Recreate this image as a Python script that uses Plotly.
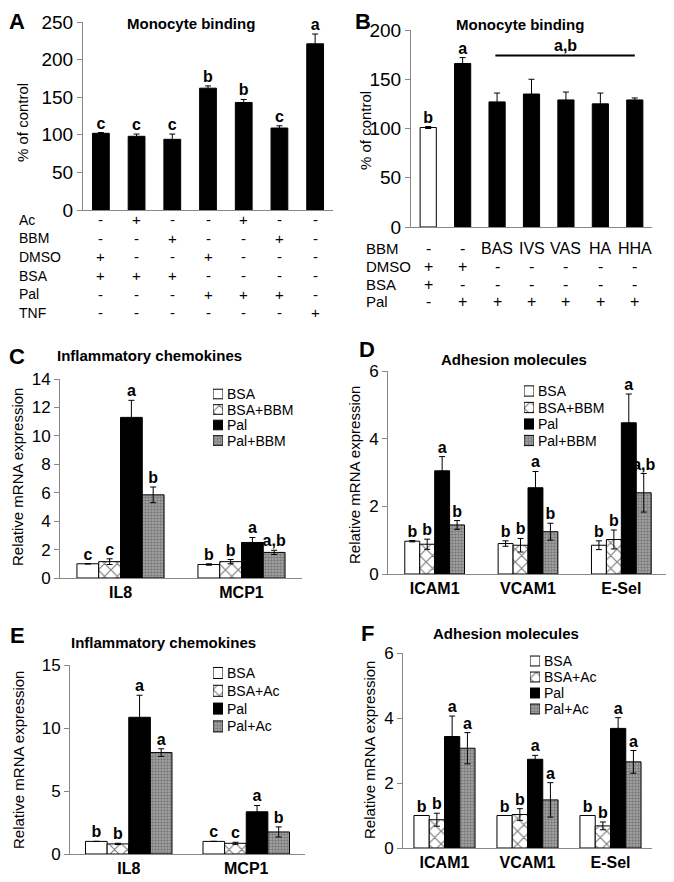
import plotly.graph_objects as go

FONT = "Liberation Sans, Arial, sans-serif"
W, H = 674, 882
PAGE_OFFSET = 8  # the page body margin moves the figure 8px right and down

# ---- panel A: monocyte binding, acacetin / BBM ----
a_vals = [102, 98, 94, 162, 143, 109, 221]
a_errs = [1, 3, 7, 3, 4, 3, 13]
a_sig = ["c", "c", "c", "b", "b", "c", "a"]
a_rows = ["Ac", "BBM", "DMSO", "BSA", "Pal", "TNF"]
a_table = [
    ["-", "+", "-", "-", "+", "-", "-"],
    ["-", "-", "+", "-", "-", "+", "-"],
    ["+", "-", "-", "+", "-", "-", "-"],
    ["+", "+", "+", "-", "-", "-", "-"],
    ["-", "-", "-", "+", "+", "+", "-"],
    ["-", "-", "-", "-", "-", "-", "+"],
]

# ---- panel B: monocyte binding, BBM fractions ----
b_vals = [101, 166, 127, 135, 129, 125, 129]
b_errs = [1, 6, 9, 15, 8, 11, 2]
b_sig = ["b", "a", "", "", "", "", ""]
b_colors = ["white", "black", "black", "black", "black", "black", "black"]
b_rows = ["BBM", "DMSO", "BSA", "Pal"]
b_table = [
    ["-", "-", "BAS", "IVS", "VAS", "HA", "HHA"],
    ["+", "+", "-", "-", "-", "-", "-"],
    ["+", "-", "-", "-", "-", "-", "-"],
    ["-", "+", "+", "+", "+", "+", "+"],
]
b_bar_label = "a,b"
b_bar_level = 174

# ---- panel C: chemokines with BBM ----
c_groups = ["IL8", "MCP1"]
c_series = ["BSA", "BSA+BBM", "Pal", "Pal+BBM"]
c_vals = [[1.0, 0.95], [1.15, 1.15], [11.3, 2.5], [5.85, 1.8]]
c_errs = [[0.02, 0.05], [0.2, 0.15], [1.2, 0.35], [0.55, 0.15]]
c_sig = [["c", "b"], ["c", "b"], ["a", "a"], ["b", "a,b"]]

# ---- panel D: adhesion molecules with BBM ----
d_groups = ["ICAM1", "VCAM1", "E-Sel"]
d_series = ["BSA", "BSA+BBM", "Pal", "Pal+BBM"]
d_vals = [[0.97, 0.9, 0.85], [0.88, 0.85, 1.02], [3.05, 2.55, 4.47], [1.45, 1.25, 2.4]]
d_errs = [[0.02, 0.08, 0.13], [0.15, 0.2, 0.28], [0.42, 0.48, 0.85], [0.13, 0.25, 0.57]]
d_sig = [["b", "b", "b"], ["b", "b", "b"], ["a", "a", "a"], ["b", "b", "a,b"]]

# ---- panel E: chemokines with acacetin ----
e_groups = ["IL8", "MCP1"]
e_series = ["BSA", "BSA+Ac", "Pal", "Pal+Ac"]
e_vals = [[1.0, 1.0], [0.8, 0.85], [10.85, 3.35], [8.05, 1.75]]
e_errs = [[0.0, 0.0], [0.05, 0.08], [1.75, 0.5], [0.3, 0.4]]
e_sig = [["b", "c"], ["b", "c"], ["a", "a"], ["a", "b"]]

# ---- panel F: adhesion molecules with acacetin ----
f_groups = ["ICAM1", "VCAM1", "E-Sel"]
f_series = ["BSA", "BSA+Ac", "Pal", "Pal+Ac"]
f_vals = [[1.0, 1.0, 1.0], [0.87, 1.03, 0.68], [3.43, 2.73, 3.68], [3.07, 1.48, 2.65]]
f_errs = [[0.0, 0.0, 0.0], [0.2, 0.18, 0.12], [0.63, 0.12, 0.33], [0.48, 0.53, 0.35]]
f_sig = [["b", "b", "b"], ["b", "b", "b"], ["a", "a", "a"], ["a", "a", "a"]]


def px_x(p):
    return (p - PAGE_OFFSET) / W


def px_y(p):
    return 1 - (p - PAGE_OFFSET) / H


OUTLINE = dict(color="black", width=1)
STYLES = [
    dict(color="white", line=OUTLINE),
    dict(color="white", line=OUTLINE,
         pattern=dict(shape="x", fgcolor="black", bgcolor="white", size=9, solidity=0.25)),
    dict(color="black", line=OUTLINE),
    dict(color="#8a8a8a", line=OUTLINE,
         pattern=dict(shape=".", fgcolor="#4a4a4a", bgcolor="#a8a8a8", size=3, solidity=0.5)),
]
ERR = dict(type="data", color="black", thickness=1, width=3)
SIGFONT = dict(family=FONT, size=16, color="black", weight="bold")
AXCOL = "#888888"

fig = go.Figure()
layout = {}
ann = []

# panel A/B bars
for n, vals, errs, sig, colors in [
    ("", a_vals, a_errs, a_sig, ["black"] * len(a_vals)),
    ("2", b_vals, b_errs, b_sig, b_colors),
]:
    xs = list(range(len(vals)))
    fig.add_trace(go.Bar(x=xs, y=vals, width=0.47, marker=dict(color=colors, line=OUTLINE),
                         error_y=dict(array=errs, **ERR), showlegend=False,
                         xaxis="x" + n, yaxis="y" + n))
    fig.add_trace(go.Scatter(x=xs, y=[v + e for v, e in zip(vals, errs)], mode="text",
                             text=sig, textposition="top center", textfont=SIGFONT,
                             cliponaxis=False, showlegend=False, xaxis="x" + n, yaxis="y" + n))

# grouped panels C-F, plus a compact hand-made legend for each
# (legend: swatch left px, first row centre px, row step px)
grouped = [
    ("3", "7", c_groups, c_series, c_vals, c_errs, c_sig, 0.18, (213, 394, 15.5)),
    ("4", "8", d_groups, d_series, d_vals, d_errs, d_sig, 0.16, (524, 391, 16.5)),
    ("5", "9", e_groups, e_series, e_vals, e_errs, e_sig, 0.184, (213, 673, 17.8)),
    ("6", "10", f_groups, f_series, f_vals, f_errs, f_sig, 0.184, (530, 661, 16.0)),
]
for n, ln, groups, series, vals, errs, sig, bw, (lx, ly, step) in grouped:
    for j, name in enumerate(series):
        xs = [i + (j - 1.5) * bw for i in range(len(groups))]
        fig.add_trace(go.Bar(x=xs, y=vals[j], width=bw, name=name, marker=STYLES[j],
                             error_y=dict(array=errs[j], **ERR), showlegend=False,
                             xaxis="x" + n, yaxis="y" + n))
        fig.add_trace(go.Scatter(x=xs, y=[v + e for v, e in zip(vals[j], errs[j])], mode="text",
                                 text=sig[j], textposition="top center", textfont=SIGFONT,
                                 cliponaxis=False, showlegend=False, xaxis="x" + n, yaxis="y" + n))
        # legend swatch
        fig.add_trace(go.Bar(x=[1], y=[j], orientation="h", width=0.62, marker=STYLES[j],
                             showlegend=False, hoverinfo="skip", xaxis="x" + ln, yaxis="y" + ln))
        ann.append(dict(text=name, x=px_x(lx + 12), y=px_y(ly + j * step), xref="paper",
                        yref="paper", xanchor="left", yanchor="middle", showarrow=False,
                        font=dict(family=FONT, size=14)))
    top = ly - step / 2
    layout["xaxis" + ln] = dict(domain=[px_x(lx), px_x(lx + 10)], range=[0, 1], visible=False,
                                anchor="y" + ln, fixedrange=True)
    layout["yaxis" + ln] = dict(domain=[px_y(top + 4 * step), px_y(top)], range=[3.5, -0.5],
                                visible=False, anchor="x" + ln, fixedrange=True)

# axis boxes in pixels: (x0, x1, ytop, ybottom, ymax, dtick)
boxes = {
    "": (83, 333, 22, 210, 250, 50),
    "2": (411, 652, 30, 227, 200, 50),
    "3": (60, 302, 379, 578, 14, 2),
    "4": (388, 668, 371, 574, 6, 2),
    "5": (70, 305, 665, 854, 15, 5),
    "6": (403, 652, 653, 848, 6, 2),
}
ngroups = {"": 7, "2": 7, "3": 2, "4": 3, "5": 2, "6": 3}
ticktexts = {"3": c_groups, "4": d_groups, "5": e_groups, "6": f_groups}
for n, (x0, x1, yt, yb, ymax, dt) in boxes.items():
    k = ngroups[n]
    xa = dict(domain=[px_x(x0), px_x(x1)], range=[-0.5, k - 0.5], anchor="y" + n,
              showline=True, linecolor=AXCOL, linewidth=1, showgrid=False, zeroline=False,
              ticks="", fixedrange=True, automargin=False)
    if n in ticktexts:
        xa.update(tickvals=list(range(k)), ticktext=ticktexts[n],
                  tickfont=dict(family=FONT, size=16, color="black", weight="bold"))
    else:
        xa.update(showticklabels=False)
    ya = dict(domain=[px_y(yb), px_y(yt)], range=[0, ymax], dtick=dt, anchor="x" + n,
              showline=True, linecolor=AXCOL, linewidth=1, showgrid=False, zeroline=False,
              ticks="outside", ticklen=5, tickcolor=AXCOL, automargin=False, fixedrange=True,
              tickfont=dict(family=FONT, size=19 if n in ("", "2") else 17, color="black"))
    layout["xaxis" + n] = xa
    layout["yaxis" + n] = ya

fig.update_layout(width=W, height=H, margin=dict(l=0, r=0, t=0, b=0, autoexpand=False),
                  plot_bgcolor="white", paper_bgcolor="white", barmode="overlay",
                  showlegend=False, font=dict(family=FONT, color="black"), **layout)

# panel letters
for letter, x, y in [("A", 17, 22), ("B", 363, 22), ("C", 17, 357),
                     ("D", 367, 349), ("E", 17, 635), ("F", 367, 633)]:
    ann.append(dict(text=letter, x=px_x(x), y=px_y(y), xref="paper", yref="paper",
                    xanchor="center", yanchor="middle", showarrow=False,
                    font=dict(family=FONT, size=22, weight="bold")))
# panel titles
for title, x, y in [("Monocyte binding", 191, 23), ("Monocyte binding", 520, 25),
                    ("Inflammatory chemokines", 149, 355), ("Adhesion molecules", 514, 359),
                    ("Inflammatory chemokines", 163, 642), ("Adhesion molecules", 506, 633)]:
    ann.append(dict(text=title, x=px_x(x), y=px_y(y), xref="paper", yref="paper",
                    xanchor="center", yanchor="middle", showarrow=False,
                    font=dict(family=FONT, size=15, weight="bold")))
# y axis titles
for title, x, y in [("% of control", 22, 123), ("% of control", 365, 131),
                    ("Relative mRNA expression", 17, 477), ("Relative mRNA expression", 355, 475),
                    ("Relative mRNA expression", 18, 760), ("Relative mRNA expression", 369, 750)]:
    ann.append(dict(text=title, x=px_x(x), y=px_y(y), xref="paper", yref="paper",
                    xanchor="center", yanchor="middle", showarrow=False, textangle=-90,
                    font=dict(family=FONT, size=15)))

# treatment tables under A and B
for n, rows, table, lab_x, y0, step, fs in [
    ("", a_rows, a_table, 17, 220, 18.5, 14),
    ("2", b_rows, b_table, 364, 248, 18, 15),
]:
    for r, (row, cells) in enumerate(zip(rows, table)):
        y = px_y(y0 + r * step)
        ann.append(dict(text=row, x=px_x(lab_x), y=y, xref="paper", yref="paper",
                        xanchor="left", yanchor="middle", showarrow=False,
                        font=dict(family=FONT, size=fs)))
        for i, cell in enumerate(cells):
            ann.append(dict(text=cell, x=i, y=y, xref="x" + n, yref="paper",
                            xanchor="center", yanchor="middle", showarrow=False,
                            font=dict(family=FONT, size=fs + 1)))

# shared significance bar in B
fig.add_shape(type="line", x0=1.95, x1=6.0, y0=b_bar_level, y1=b_bar_level,
              xref="x2", yref="y2", line=dict(color="black", width=2))
ann.append(dict(text=b_bar_label, x=4, y=b_bar_level, xref="x2", yref="y2",
                xanchor="center", yanchor="bottom", showarrow=False, font=SIGFONT))

fig.update_layout(annotations=ann)
fig.write_html("out.html")
